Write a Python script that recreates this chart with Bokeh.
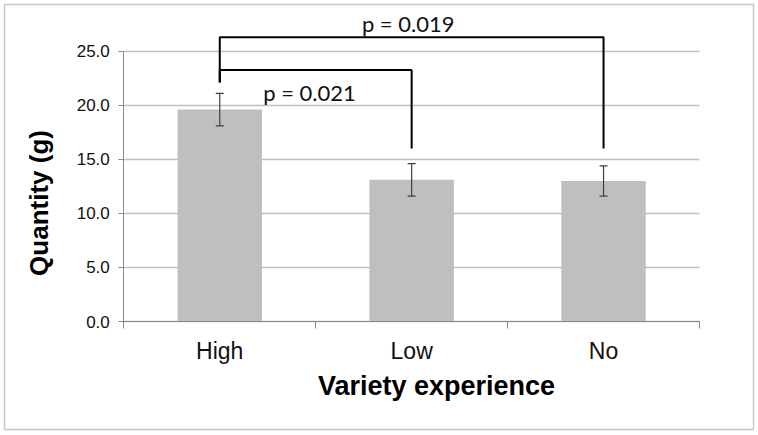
import math
from bokeh.plotting import figure
from bokeh.models import (Range1d, FixedTicker, PrintfTickFormatter, ColumnDataSource,
                          Whisker, TeeHead, LinearAxis, Grid)
from bokeh.core.properties import value
from bokeh.embed import file_html
from bokeh.resources import INLINE

# ---- data ----
categories = ["High", "Low", "No"]
means = [19.6, 13.1, 13.0]
errors = [1.5, 1.5, 1.4]
y_ticks = [0, 5, 10, 15, 20, 25]
comp_from = ["High", "High"]
comp_to = ["Low", "No"]
p_values = ["p = 0.021", "p = 0.019"]
bracket_tops = [23.25, 26.3]
bracket_from_bottom = 22.1
bracket_to_bottom = 16.0
x_title = "Variety experience"
y_title = "Quantity (g)"

# ---- layout (page pixels of the plotting area) ----
W, H = 758, 435
FL, FR, FB, FT = 123.3, 699.0, 321.0, 50.7
n = len(categories)
CW = (FR - FL) / n
YS = (FB - FT) / y_ticks[-1]


def px_x(px):
    return (px - FL) / CW


def px_y(py):
    return (FB - py) / YS


pos = {c: i + 0.5 for i, c in enumerate(categories)}
xs = [pos[c] for c in categories]

p = figure(width=W, height=H, x_range=Range1d(px_x(0), px_x(W)),
           y_range=Range1d(px_y(H), px_y(0)),
           x_axis_type=None, y_axis_type=None,
           output_backend="svg", toolbar_location=None,
           min_border_left=0, min_border_right=0, min_border_top=0, min_border_bottom=0)
p.title.visible = False
p.outline_line_color = None
p.background_fill_color = "white"
p.border_fill_color = "white"

# grid
p.add_layout(Grid(dimension=1, ticker=FixedTicker(ticks=y_ticks), cross_bounds=(0, n),
                  grid_line_color="#c0c0c0", grid_line_width=1.5))

# y axis
ya = LinearAxis(fixed_location=0, ticker=FixedTicker(ticks=y_ticks),
                formatter=PrintfTickFormatter(format="%.1f"), bounds=(0, y_ticks[-1]))
ya.axis_line_color = "#8a8a8a"
ya.major_tick_line_color = "#8a8a8a"
ya.major_tick_out = 5
ya.major_tick_in = 0
ya.minor_tick_line_color = None
ya.major_label_standoff = 9
ya.major_label_text_font = "Liberation Sans"
ya.major_label_text_font_size = "17px"
ya.major_label_text_color = "#111111"
p.add_layout(ya, "left")

# x axis
xa = LinearAxis(fixed_location=0, ticker=FixedTicker(ticks=xs, minor_ticks=list(range(n + 1))),
                bounds=(0, n))
xa.major_label_overrides = {x: c for x, c in zip(xs, categories)}
xa.axis_line_color = "#8a8a8a"
xa.major_tick_line_color = None
xa.major_tick_out = 0
xa.major_tick_in = 0
xa.minor_tick_line_color = "#8a8a8a"
xa.minor_tick_out = 7
xa.minor_tick_in = 0
xa.major_label_standoff = 9
xa.major_label_text_font = "Liberation Sans"
xa.major_label_text_font_size = "23px"
xa.major_label_text_color = "#111111"
p.add_layout(xa, "below")

# bars
src = ColumnDataSource(dict(x=xs, top=means,
                            upper=[m + e for m, e in zip(means, errors)],
                            lower=[m - e for m, e in zip(means, errors)]))
p.vbar(x="x", top="top", width=0.44, source=src, fill_color="#bfbfbf", line_color=None)
p.add_layout(Whisker(base="x", upper="upper", lower="lower", source=src, level="overlay",
                     line_color="#404040", line_width=1.2,
                     upper_head=TeeHead(size=8, line_color="#404040", line_width=1.2),
                     lower_head=TeeHead(size=8, line_color="#404040", line_width=1.2)))

# significance brackets
bx, by = [], []
for a, b, top in zip(comp_from, comp_to, bracket_tops):
    bx.append([pos[a], pos[a], pos[b], pos[b]])
    by.append([bracket_from_bottom, top, top, bracket_to_bottom])
p.multi_line(xs=bx, ys=by, line_color="black", line_width=2)

lab_x = [px_x(309), px_x(407.7)]
lab_y = [px_y(100 - 8), px_y(31.7 - 9)]
p.text(x=lab_x, y=lab_y, text=p_values, text_font=value("Lato"), text_font_size="22px",
       text_align="center", text_baseline="alphabetic", text_color="#111111")

# axis titles
p.text(x=[px_x(38)], y=[px_y(202.5)], text=[y_title], angle=math.pi / 2,
       text_align="center", text_baseline="middle", text_font=value("Liberation Sans"),
       text_font_style="bold", text_font_size="26px", text_color="black")
p.text(x=[px_x(436)], y=[px_y(385)], text=[x_title],
       text_align="center", text_baseline="middle", text_font=value("Liberation Sans"),
       text_font_style="bold", text_font_size="27px", text_color="black")

# outer chart border
p.quad(left=[px_x(4)], right=[px_x(753)], top=[px_y(4)], bottom=[px_y(429)],
       fill_color=None, line_color="#c8c8c8", line_width=1.5, level="underlay")

open("out.html", "w").write(file_html(p, INLINE))
